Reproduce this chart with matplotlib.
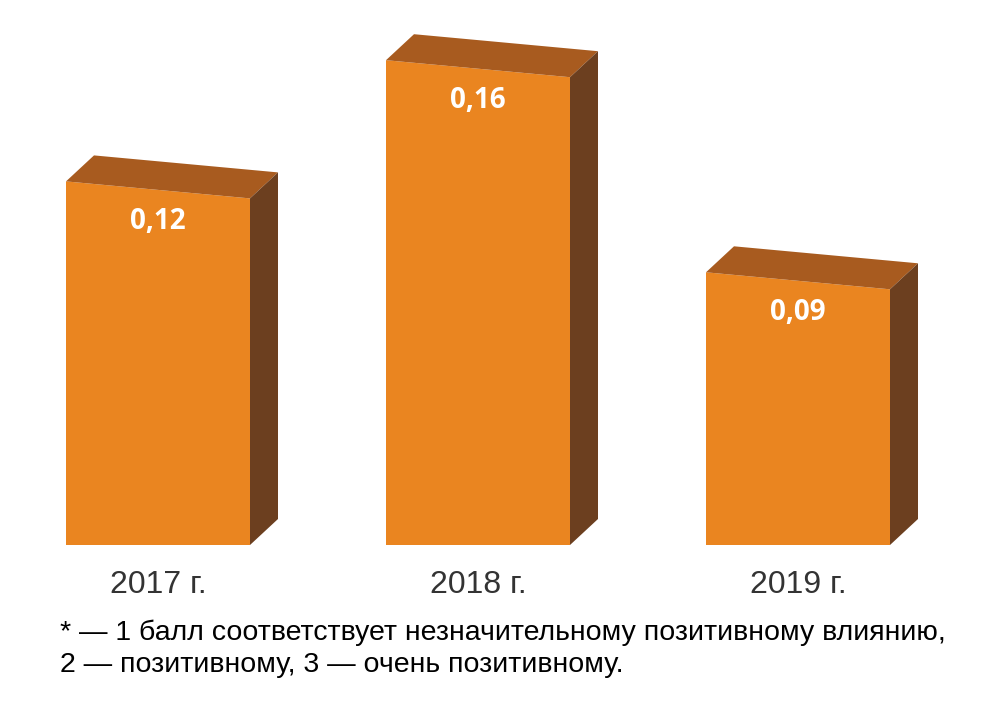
import matplotlib
matplotlib.use("Agg")
import matplotlib.pyplot as plt
from matplotlib.patches import Polygon

categories = ["2017 г.", "2018 г.", "2019 г."]
values = [0.12, 0.16, 0.09]
labels = ["0,12", "0,16", "0,09"]

fig = plt.figure(figsize=(10, 7.25), dpi=100)
ymax = 0.18
ppu = 3030
hpx = ymax * ppu
ax = fig.add_axes([0, (725 - 545) / 725, 1, hpx / 725])
ax.set_xlim(-158 / 320, (1000 - 158) / 320)
ax.set_ylim(0, ymax)
ax.axis("off")

w = 184 / 320
dx = 28 / 320
dy = 26 / ppu
slant = 17 / ppu
front, top, side = "#EA8520", "#A85B1F", "#6C3F1F"
for i, v in enumerate(values):
    l, r = i - w / 2, i + w / 2
    ax.add_patch(Polygon([(l, 0), (r, 0), (r, v - slant), (l, v)], closed=True, fc=front, ec="none"))
    ax.add_patch(Polygon([(l, v), (r, v - slant), (r + dx, v - slant + dy), (l + dx, v + dy)], closed=True, fc=top, ec="none"))
    ax.add_patch(Polygon([(r, 0), (r + dx, dy), (r + dx, v - slant + dy), (r, v - slant)], closed=True, fc=side, ec="none"))
    ax.text(i, v - 40 / ppu, labels[i], color="white", fontsize=20, fontweight="bold",
            ha="center", va="center", family="Open Sans")
    ax.text(i, -40 / ppu, categories[i], color="#333333", fontsize=23, ha="center", va="center",
            family="Liberation Sans")

fig.text(0.06, 1 - 633 / 725, "* — 1 балл соответствует незначительному позитивному влиянию,",
         fontsize=20.5, va="center", family="Liberation Sans", color="black")
fig.text(0.06, 1 - 665 / 725, "2 — позитивному, 3 — очень позитивному.",
         fontsize=20.5, va="center", family="Liberation Sans", color="black")
fig.savefig("out.png", dpi=100)
